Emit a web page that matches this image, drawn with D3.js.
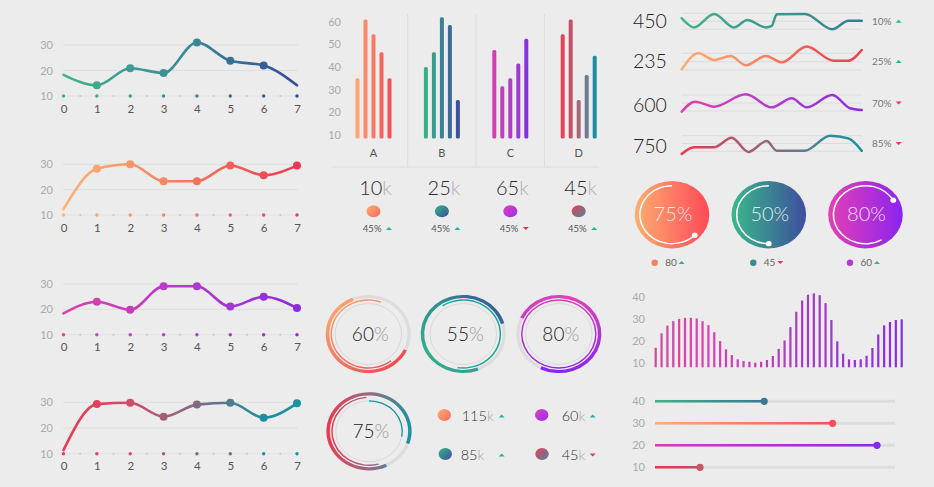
<!DOCTYPE html>
<html><head><meta charset="utf-8">
<script src="https://cdn.jsdelivr.net/npm/d3@7"></script>
<style>
html,body{margin:0;padding:0;background:#ececec;}
svg{display:block;font-family:Lato,'Open Sans',sans-serif;}
.thin{font-family:'Lato Light','Lato Hairline',Lato,'Open Sans',sans-serif;font-weight:300;}
</style></head><body>
<svg id="c" width="934" height="487"></svg>
<script>
// ================= DATA =================
const lineX = [0,1,2,3,4,5,6,7];
const lineTicks = [10,20,30];
const lineA = [18.3,14.2,20.9,19,31,23.8,22,14.2];
const lineB = [12.3,28.2,30,23.3,23.3,29.5,25.7,29.5];
const lineC = [18.4,23,19.8,29.1,29.1,21.1,25,20.5];
const lineD = [11.4,29.3,29.8,24.4,29.1,29.8,24,29.6];

const barGroups = ["A","B","C","D"];
const barTicks = [10,20,30,40,50,60];
const barsA = [35,61,54.5,46.5,35];
const barsB = [40,46.5,62,58.5,25.5];
const barsC = [47.5,31.5,35,41.5,52.5];
const barsD = [54.5,61,25.5,36.5,45];
const kpiValues = [10,25,65,45];
const kpiPct = ["45%","45%","45%","45%"];
const kpiTrend = ["up","up","down","up"];

const ringValues = [60,55,80,75];
const legendValues = [115,60,85,45];
const legendTrend = ["up","up","up","down"];

const sparkNumbers = [450,235,600,750];
const sparkPct = ["10%","25%","70%","85%"];
const sparkTrend = ["up","up","down","down"];
const sparkA = [[0,69],[6.9,12],[18,96],[29,12],[36.5,58],[46.7,12],[50,21],[52.8,94],[68.5,96],[83.7,0],[92.6,54],[100,54]];
const sparkB = [[0,4],[9.3,100],[18,60],[27.2,84],[35.6,28],[46.7,84],[55.6,46],[69.4,140],[84.3,56],[92.6,56],[100,120]];
const sparkC = [[0,-4],[7.4,58],[18,27],[35.6,104],[50,23],[61.1,79],[69.4,23],[83.7,100],[93.5,17],[100,6]];
const sparkD = [[0,-17],[6.9,26],[18,26],[27.8,87],[37,-4],[47.2,66],[52.8,4],[68.5,4],[82.4,100],[92.6,83],[100,4]];

const bubbleValues = [75,50,80];
const bubbleLegend = [80,45,60];
const bubbleTrend = ["up","down","up"];

const histTicks = [10,20,30,40];
const histValues = [17,23.5,27,29,30,30.5,30.5,30.2,29,27.2,24,20,16.3,13.7,11.8,11,10.7,10.3,10.7,11.5,13.3,16.5,20.3,26.3,33.2,38.3,40.9,41.5,40.7,37.1,29.5,19.9,14.3,11.8,11.5,11.8,13.4,16.9,23,27.1,28.6,29.5,29.8];

const sliderLabels = [40,30,20,10];
const sliderValues = [45.5,74,92.5,18.75];

// ================= HELPERS =================
const svg = d3.select("#c");
const defs = svg.append("defs");
let gid = 0;
function grad(stops, attrs){
  const id = "g"+(gid++);
  const g = defs.append("linearGradient").attr("id", id);
  Object.entries(attrs||{}).forEach(([k,v])=>g.attr(k,v));
  stops.forEach(([o,c])=>g.append("stop").attr("offset",o).attr("stop-color",c));
  return `url(#${id})`;
}
const UP = "#23b3a1", DOWN = "#e8374f";
function tri(sel, x, y, dir){
  const p = dir==="up" ? "M-3,1.4L3,1.4L0,-1.6Z" : "M-3,-1.4L3,-1.4L0,1.6Z";
  sel.append("path").attr("d", p).attr("transform", `translate(${x},${y})`).attr("fill", dir==="up"?UP:DOWN);
}
function styleAxis(g, color, size){
  g.select(".domain").remove();
  g.selectAll(".tick line").remove();
  g.selectAll("text").attr("fill", color).attr("font-size", size).attr("font-family","Lato,'Open Sans',sans-serif");
}
function colorAt(stops, span){
  return d3.scaleLinear().domain(stops.map(s=>s[0]*span)).range(stops.map(s=>s[1])).interpolate(d3.interpolateRgb).clamp(true);
}

// ================= LEFT LINE CHARTS =================
const lineCfg = [
  {data: lineA, y10: 96, y30: 45, stops: [[0,"#3db489"],[0.55,"#3a8896"],[1,"#344a97"]], marks:[1,2,3,4,5,6]},
  {data: lineB, y10: 215, y30: 164.3, stops: [[0,"#fbb475"],[0.45,"#f7835f"],[1,"#eb3a52"]], marks:[1,2,3,4,5,6,7]},
  {data: lineC, y10: 334.7, y30: 284, stops: [[0,"#dc40a6"],[0.5,"#b43cc9"],[1,"#8a2be2"]], marks:[1,2,3,4,5,6,7]},
  {data: lineD, y10: 453.7, y30: 402.3, stops: [[0,"#ec3a50"],[0.3,"#c9506a"],[0.6,"#7a6c85"],[0.85,"#1f8e9e"],[1,"#1a93a0"]], marks:[1,2,3,4,5,6,7]}
];
const lx = d3.scaleLinear().domain([0,7]).range([63.5,297]);
lineCfg.forEach(cfg=>{
  const ly = d3.scaleLinear().domain([10,30]).range([cfg.y10, cfg.y30]);
  const g = svg.append("g");
  [20,30].forEach(t=>g.append("line").attr("x1",63).attr("x2",298).attr("y1",ly(t)).attr("y2",ly(t)).attr("stroke","#dedede").attr("stroke-width",1));
  g.append("line").attr("x1",63).attr("x2",298).attr("y1",ly(10)).attr("y2",ly(10)).attr("stroke","#e2e2e2").attr("stroke-width",1);
  const ca = colorAt(cfg.stops, 7);
  d3.range(0,7).forEach(i=>g.append("circle").attr("cx",lx(i+0.5)).attr("cy",ly(10)).attr("r",1).attr("fill","#c9c9c9"));
  lineX.forEach(i=>g.append("circle").attr("cx",lx(i)).attr("cy",ly(10)).attr("r",1.7).attr("fill",ca(i)));
  const ya = g.append("g").attr("transform","translate(53,0)").call(d3.axisLeft(ly).tickValues(lineTicks).tickSize(0).tickPadding(0).tickFormat(d3.format("d")));
  styleAxis(ya, "#aaaaaa", 11);
  const xa = g.append("g").attr("transform",`translate(0,${cfg.y10+8.5})`).call(d3.axisBottom(lx).tickValues(lineX).tickSize(0).tickPadding(0).tickFormat(d3.format("d")));
  styleAxis(xa, "#555555", 11.5);
  const stroke = grad(cfg.stops, {gradientUnits:"userSpaceOnUse", x1:lx(0), x2:lx(7), y1:0, y2:0});
  g.append("path").datum(cfg.data)
    .attr("d", d3.line().x((d,i)=>lx(i)).y(d=>ly(d)).curve(d3.curveMonotoneX))
    .attr("fill","none").attr("stroke",stroke).attr("stroke-width",2.6).attr("stroke-linecap","round");
  cfg.marks.forEach(i=>g.append("circle").attr("cx",lx(i)).attr("cy",ly(cfg.data[i])).attr("r",4).attr("fill",ca(i)));
});

// ================= MIDDLE BAR CHART =================
const barSeries = [barsA, barsB, barsC, barsD];
const barColors = [
  ["#fca56e","#f98b6a","#f77a64","#f5645e","#f2515a"],
  ["#3aaf86","#3a9a8c","#3d7f93","#3e6a98","#3d5298"],
  ["#d23fb5","#c23ec0","#b03dca","#9e38d6","#8b2fe3"],
  ["#e5425a","#c8506a","#a26878","#6e7a8e","#1e8c9c"]
];
const by = d3.scaleLinear().domain([10,60]).range([135,21.7]);
const bx = d3.scaleBand().domain(barGroups).range([339.3,612.9]);
const bi = d3.scaleBand().domain(d3.range(5)).range([-20,20]);
const bg = svg.append("g");
barGroups.slice(1).forEach(k=>bg.append("line").attr("x1",bx(k)).attr("x2",bx(k)).attr("y1",14).attr("y2",167).attr("stroke","#dcdcdc"));
bg.append("line").attr("x1",332).attr("x2",599).attr("y1",167).attr("y2",167).attr("stroke","#dcdcdc");
const bya = bg.append("g").attr("transform","translate(341,0)").call(d3.axisLeft(by).tickValues(barTicks).tickSize(0).tickPadding(0).tickFormat(d3.format("d")));
styleAxis(bya, "#aaaaaa", 11);
const bxa = bg.append("g").attr("transform","translate(0,149)").call(d3.axisBottom(bx).tickSize(0).tickPadding(0));
styleAxis(bxa, "#555555", 11);
barSeries.forEach((vals, gi)=>{
  const gc = bx(barGroups[gi]) + bx.bandwidth()/2;
  vals.forEach((v,i)=>{
    const cx = gc + bi(i) + bi.bandwidth()/2;
    bg.append("rect").attr("x",cx-2).attr("width",4).attr("y",by(v)).attr("height",by(8.5)-by(v))
      .attr("rx",1.5).attr("fill",barColors[gi][i]);
  });
});
// KPI row
const kpiGrad = [
  [["0","#fdb072"],["1","#f5685c"]],
  [["0","#33b68a"],["1","#3d4d9a"]],
  [["0","#e03fc0"],["1","#972fe6"]],
  [["0","#ea3f58"],["1","#4f8597"]]
];
barGroups.forEach((k,gi)=>{
  const gc = bx(k) + bx.bandwidth()/2;
  const t = bg.append("text").attr("class","thin").attr("x",gc+2).attr("y",195).attr("text-anchor","middle").attr("font-size",20);
  t.append("tspan").attr("fill","#2a2a2a").text(kpiValues[gi]);
  t.append("tspan").attr("fill","#b0b0b0").text("k");
  bg.append("ellipse").attr("cx",gc).attr("cy",211.3).attr("rx",7).attr("ry",6)
    .attr("fill", grad(kpiGrad[gi], {x1:0,y1:0,x2:1,y2:1}));
  bg.append("text").attr("x",gc+8).attr("y",231.5).attr("text-anchor","end").attr("font-size",9.5).attr("fill","#555").text(kpiPct[gi]);
  tri(bg, gc+15.5, 228.5, kpiTrend[gi]);
});

// ================= MIDDLE RINGS =================
const ringCfg = [
  {cx:368.3, cy:334, stops:[[0,"#fdb072"],[1,"#ee3e52"]], g:[-1,-1,1,1], outer:[115,338], inner:[142,380]},
  {cx:463.3, cy:334, stops:[[0,"#2fb88a"],[0.55,"#2f9090"],[1,"#3d4a9a"]], g:[-1,1,1,-1], outer:[159,434], inner:[326,549], innerColor:"#1ba59b"},
  {cx:558.8, cy:334, stops:[[0,"#e040b8"],[1,"#8a25ef"]], g:[0,-1,0,1], outer:[295,566], inner:[0,360]},
  {cx:369, cy:431.3, stops:[[0,"#ec3a50"],[0.5,"#9a6a82"],[1,"#1a93a0"]], g:[-1,0,1,0], outer:[155,469], inner:[165,356], inner2:[0,100]}
];
const rad = d=>d*Math.PI/180;
const R1 = 37.5, R2 = 34, R3 = 30.5;
ringCfg.forEach((rc, i)=>{
  const g = svg.append("g").attr("transform",`translate(${rc.cx},${rc.cy}) scale(1.09,1)`);
  const fill = grad(rc.stops, {gradientUnits:"userSpaceOnUse", x1:rc.g[0]*R1, y1:rc.g[1]*R1, x2:rc.g[2]*R1, y2:rc.g[3]*R1});
  g.append("circle").attr("r",R1).attr("fill","none").attr("stroke","#dcdcdc").attr("stroke-width",3);
  g.append("circle").attr("r",R3).attr("fill","none").attr("stroke","#d6d6d6").attr("stroke-width",0.9);
  g.append("path").attr("d", d3.arc().innerRadius(R1-1.6).outerRadius(R1+1.6).startAngle(rad(rc.outer[0])).endAngle(rad(rc.outer[1]))()).attr("fill",fill);
  g.append("path").attr("d", d3.arc().innerRadius(R2-0.7).outerRadius(R2+0.7).startAngle(rad(rc.inner[0])).endAngle(rad(rc.inner[1]))()).attr("fill",rc.innerColor||fill);
  if (rc.inner2) g.append("path").attr("d", d3.arc().innerRadius(R3-0.6).outerRadius(R3+0.6).startAngle(rad(rc.inner2[0])).endAngle(rad(rc.inner2[1]))()).attr("fill","#1a93a0");
  const t = svg.append("text").attr("class","thin").attr("x",rc.cx+2).attr("y",rc.cy+6.5).attr("text-anchor","middle").attr("font-size",19);
  t.append("tspan").attr("fill","#222").text(ringValues[i]);
  t.append("tspan").attr("fill","#999").text("%");
});
// legend
const legCfg = [
  {x:444.3, y:415, tx:461.7, trx:501.7, c:kpiGrad[0]},
  {x:541.7, y:415, tx:561.7, trx:592.7, c:kpiGrad[2]},
  {x:445.3, y:454, tx:460.7, trx:501.7, c:kpiGrad[1]},
  {x:542, y:454, tx:561.7, trx:592.7, c:kpiGrad[3]}
];
legCfg.forEach((lc,i)=>{
  svg.append("ellipse").attr("cx",lc.x).attr("cy",lc.y).attr("rx",6.7).attr("ry",6).attr("fill",grad(lc.c,{x1:0,y1:0,x2:1,y2:1}));
  const t = svg.append("text").attr("class","thin").attr("x",lc.tx).attr("y",lc.y+5.5).attr("font-size",14.5);
  t.append("tspan").attr("fill","#333").text(legendValues[i]);
  t.append("tspan").attr("fill","#aaa").text("k");
  tri(svg, lc.trx, lc.y+1, legendTrend[i]);
});

// ================= RIGHT SPARKLINES =================
const sparkSeries = [sparkA, sparkB, sparkC, sparkD];
const sparkRows = [
  {top:13.3, bot:29.3, base:28.3, stops:[[0,"#3db489"],[0.5,"#3a9a8e"],[1,"#377b92"]]},
  {top:53.3, bot:70, base:68.3, stops:[[0,"#f9b074"],[0.4,"#f48a66"],[0.75,"#ee5257"],[1,"#ea4253"]]},
  {top:95, bot:111, base:111.7, stops:[[0,"#de42ad"],[0.5,"#b33ccb"],[1,"#8a2be2"]]},
  {top:135.7, bot:151.3, base:152.7, stops:[[0,"#ec3a50"],[0.3,"#b45470"],[0.5,"#8d6a80"],[0.8,"#3a8a98"],[1,"#13909e"]]}
];
const sx = d3.scaleLinear().domain([0,100]).range([681.7,861.7]);
sparkRows.forEach((r,i)=>{
  const sy = d3.scaleLinear().domain([0,100]).range([r.bot, r.top]);
  const g = svg.append("g");
  [0,50,100].forEach(v=>g.append("line").attr("x1",sx(0)).attr("x2",sx(100)).attr("y1",sy(v)).attr("y2",sy(v)).attr("stroke","#dcdcdc"));
  g.append("path").datum(sparkSeries[i])
    .attr("d", d3.line().x(d=>sx(d[0])).y(d=>sy(d[1])).curve(d3.curveMonotoneX))
    .attr("fill","none").attr("stroke-width",2.5).attr("stroke-linecap","round")
    .attr("stroke", grad(r.stops,{gradientUnits:"userSpaceOnUse", x1:sx(0), x2:sx(100), y1:0, y2:0}));
  g.append("text").attr("class","thin").attr("x",633).attr("y",r.base).attr("font-size",19.5).attr("fill","#222").text(sparkNumbers[i]);
  const mid = sy(50);
  g.append("text").attr("x",872).attr("y",mid+3.6).attr("font-size",10).attr("fill","#777").text(sparkPct[i]);
  tri(g, 898.7, mid, sparkTrend[i]);
});

// ================= RIGHT BUBBLES =================
const bubCfg = [
  {cx:672, stops:[[0,"#fdae70"],[1,"#fd4a58"]], arc:[135,360], dotA:135, legC:"#f7805f", lx:654.7},
  {cx:768.8, stops:[[0,"#38b98a"],[1,"#3f4e9d"]], arc:[180,360], dotA:180, legC:"#3a8a96", lx:753.3},
  {cx:865.5, stops:[[0,"#e43fb5"],[1,"#8b24ef"]], arc:[150,420], dotA:60, legC:"#b03cc8", lx:850}
];
const bubCy = 214.7, bubR = 33.7, bubArcR = 29;
bubCfg.forEach((b,i)=>{
  const g = svg.append("g").attr("transform",`translate(${b.cx},${bubCy}) scale(1.107,1)`);
  g.append("circle").attr("r",bubR).attr("fill",grad(b.stops,{x1:0,y1:0,x2:1,y2:0}));
  g.append("path").attr("d", d3.arc().innerRadius(bubArcR-0.7).outerRadius(bubArcR+0.7).startAngle(rad(b.arc[0])).endAngle(rad(b.arc[1]))()).attr("fill","#fff");
  const a = rad(b.dotA);
  g.append("circle").attr("cx",bubArcR*Math.sin(a)).attr("cy",-bubArcR*Math.cos(a)).attr("r",2.6).attr("fill","#fff");
  svg.append("text").attr("class","thin").attr("x",b.cx+1).attr("y",bubCy+6.5).attr("text-anchor","middle").attr("font-size",20).attr("fill","#fff").attr("fill-opacity",0.85).text(bubbleValues[i]+"%");
  svg.append("circle").attr("cx",b.lx).attr("cy",262.7).attr("r",3.2).attr("fill",b.legC);
  svg.append("text").attr("x",b.lx+10.5).attr("y",266.3).attr("font-size",10).attr("fill","#666").text(bubbleLegend[i]);
  tri(svg, b.lx+27, 262.5, bubbleTrend[i]);
});

// ================= RIGHT HISTOGRAM =================
const hx = d3.scaleLinear().domain([0,histValues.length-1]).range([655.7,901.7]);
const hy = d3.scaleLinear().domain([10,40]).range([363.3,296.7]);
const hg = svg.append("g");
const hya = hg.append("g").attr("transform","translate(645,0)").call(d3.axisLeft(hy).tickValues(histTicks).tickSize(0).tickPadding(0).tickFormat(d3.format("d")));
styleAxis(hya, "#aaaaaa", 11);
const hfill = grad([[0,"#d0489e"],[0.2,"#e03fb0"],[0.6,"#a53bc8"],[1,"#8a2be2"]],{gradientUnits:"userSpaceOnUse", x1:655, x2:903, y1:0, y2:0});
hg.selectAll("rect.h").data(histValues).join("rect").attr("class","h")
  .attr("x",(d,i)=>hx(i)-1.1).attr("width",2.2).attr("y",d=>hy(d)).attr("height",d=>hy(8.2)-hy(d)).attr("fill",hfill);

// ================= RIGHT SLIDERS =================
const slx = d3.scaleLinear().domain([0,100]).range([655,895]);
const sly = d3.scalePoint().domain(sliderLabels).range([401.3,467.3]);
const slg = svg.append("g");
const slya = slg.append("g").attr("transform","translate(645,0)").call(d3.axisLeft(sly).tickSize(0).tickPadding(0));
styleAxis(slya, "#aaaaaa", 11);
const slCfg = [
  {stops:[[0,"#3db489"],[1,"#3d7892"]], knob:"#3d7892"},
  {stops:[[0,"#f9b074"],[1,"#f5505a"]], knob:"#f5505c"},
  {stops:[[0,"#d23fb5"],[1,"#8a2be2"]], knob:"#8a2be2"},
  {stops:[[0,"#e8374f"],[1,"#b85068"]], knob:"#c55a6a"}
];
sliderLabels.forEach((lab,i)=>{
  const y = sly(lab);
  slg.append("line").attr("x1",slx(0)).attr("x2",slx(100)).attr("y1",y).attr("y2",y).attr("stroke","#dddddd").attr("stroke-width",3);
  slg.append("line").attr("x1",slx(0)).attr("x2",slx(sliderValues[i])).attr("y1",y).attr("y2",y).attr("stroke-width",2.4)
    .attr("stroke",grad(slCfg[i].stops,{gradientUnits:"userSpaceOnUse", x1:slx(0), x2:slx(sliderValues[i]), y1:0, y2:0}));
  slg.append("circle").attr("cx",slx(sliderValues[i])).attr("cy",y).attr("r",3.6).attr("fill",slCfg[i].knob);
});
</script>
</body></html>
